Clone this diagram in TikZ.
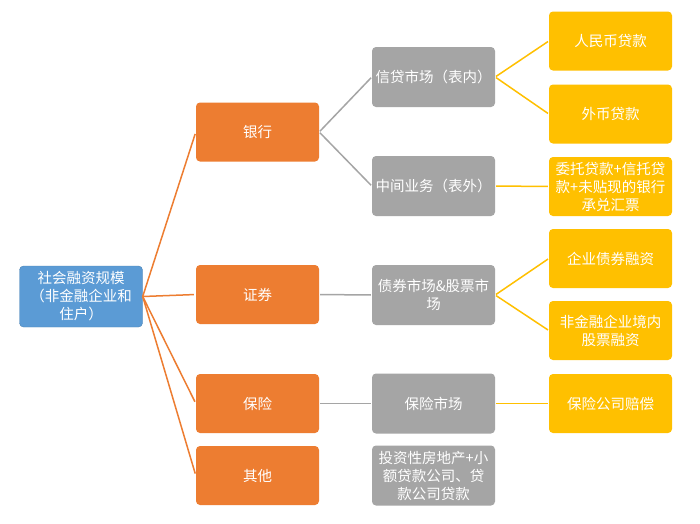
\documentclass[tikz,border=0pt]{standalone}
\usepackage{fontspec}
\setmainfont{Noto Sans CJK SC}
\begin{document}
\begin{tikzpicture}[x=1pt,y=-1pt,
  box/.style={rounded corners=4pt, minimum width=123pt, text width=118pt, align=center,
    text=white, font=\fontsize{14.5}{18}\selectfont, inner sep=1pt},
  rootbox/.style={box, fill=rootblue, draw=rootblue!85!black, line width=0.4pt, minimum height=61pt},
  obox/.style={box, fill=orng, minimum height=59pt},
  gbox/.style={box, fill=grey, minimum height=60pt},
  ybox/.style={box, fill=yel, minimum height=59pt},
  oline/.style={draw=orng, line width=1.5pt, shorten >=2pt},
  gline/.style={draw=grey, line width=1.5pt, shorten >=1pt, shorten <=1pt},
  yline/.style={draw=yel, line width=1.5pt, shorten >=1pt, shorten <=1pt}]
\definecolor{rootblue}{HTML}{5B9BD5}
\definecolor{orng}{HTML}{ED7D31}
\definecolor{grey}{HTML}{A5A5A5}
\definecolor{yel}{HTML}{FFC000}
\useasboundingbox (0,0) rectangle (700,523);
\fill[white] (0,0) rectangle (700,523);
% root
\node[rootbox] (root) at (81,296.5) {社会融资规模\\（非金融企业和\\住户）};
% level 1
\node[obox] (bank) at (257.5,132) {银行};
\node[obox] (sec) at (257.5,294.5) {证券};
\node[obox] (ins) at (257.5,403.5) {保险};
\node[obox] (oth) at (257.5,475.5) {其他};
% level 2
\node[gbox] (credit) at (433.5,77) {信贷市场（表内）};
\node[gbox] (mid) at (433.5,186) {中间业务（表外）};
\node[gbox] (bond) at (433.5,295) {债券市场\&股票市\\场};
\node[gbox] (insm) at (433.5,403.5) {保险市场};
\node[gbox] (inv) at (433.5,475.5) {投资性房地产+小\\额贷款公司、贷\\款公司贷款};
% level 3
\node[ybox] (rmb) at (610.5,41) {人民币贷款};
\node[ybox] (fx) at (610.5,114) {外币贷款};
\node[ybox] (ent) at (610.5,186.5) {委托贷款+信托贷\\款+未贴现的银行\\承兑汇票};
\node[ybox] (cb) at (610.5,258.5) {企业债券融资};
\node[ybox] (eq) at (610.5,330.5) {非金融企业境内\\股票融资};
\node[ybox] (claim) at (610.5,403.5) {保险公司赔偿};
% connectors
\coordinate (rp) at (root.east);
\foreach \t in {bank,sec,ins,oth} \draw[oline] (rp) -- (\t.west);
\draw[gline] (bank.east) -- (credit.west);
\draw[gline] (bank.east) -- (mid.west);
\draw[gline] (sec.east) -- (bond.west);
\draw[gline] (ins.east) -- (insm.west);
\draw[yline] (credit.east) -- (rmb.west);
\draw[yline] (credit.east) -- (fx.west);
\draw[yline] (mid.east) -- (ent.west);
\draw[yline] (bond.east) -- (cb.west);
\draw[yline] (bond.east) -- (eq.west);
\draw[yline] (insm.east) -- (claim.west);
\end{tikzpicture}
\end{document}
